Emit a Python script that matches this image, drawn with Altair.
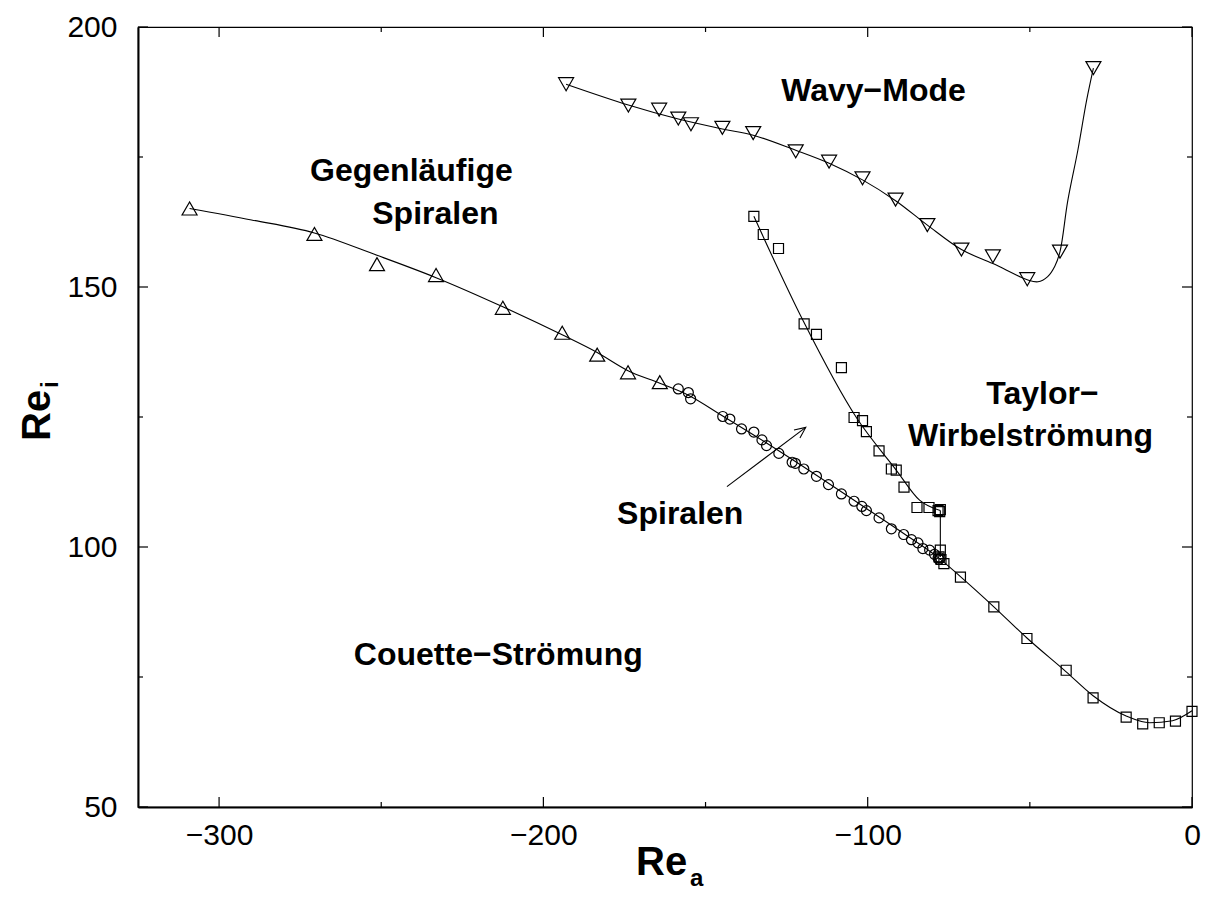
import altair as alt
import pandas as pd

# ---------------- data ----------------
# Gegenläufige Spiralen (triangle-up markers)
tri_up_x = [-309.1, -270.6, -251.3, -233.1, -212.5, -194.2, -183.4, -173.9, -164.1]
tri_up_y = [165.1, 160.2, 154.4, 152.3, 146.0, 141.2, 137.0, 133.6, 131.7]

# Spiralen onset (circle markers)
circ_x = [-158.4, -155.3, -154.6, -144.7, -142.5, -138.9, -135.1, -132.6, -131.2, -127.4,
          -123.3, -122.3, -119.7, -115.8, -112.1, -108.1, -104.2, -101.8, -100.4, -96.5,
          -92.7, -88.9, -86.5, -84.5, -83.0, -80.9, -79.4, -78.3, -78.0, -77.6]
circ_y = [130.4, 129.7, 128.5, 125.1, 124.6, 122.7, 122.1, 120.6, 119.5, 118.0,
          116.3, 116.1, 115.0, 113.6, 112.0, 110.2, 108.8, 107.8, 107.0, 105.6,
          103.5, 102.4, 101.4, 100.8, 99.7, 99.4, 98.6, 97.9, 97.6, 97.9]

# Taylor vortices (square markers)
sq_x = [-135.1, -132.2, -127.5, -119.6, -115.8, -108.1, -104.2, -101.6, -100.4, -96.5,
        -92.7, -91.2, -88.8, -84.8, -81.1, -78.3, -77.8, -77.6,
        -77.6, -78.0, -77.4,
        -76.5, -71.4, -61.1, -50.9, -38.8, -30.5, -20.3, -15.2, -10.1, -5.1, 0.0]
sq_y = [163.6, 160.1, 157.4, 142.9, 140.9, 134.5, 124.9, 124.3, 122.2, 118.5,
        115.0, 114.8, 111.5, 107.6, 107.6, 107.0, 106.8, 107.2,
        99.4, 98.1, 97.6,
        96.8, 94.2, 88.5, 82.4, 76.3, 71.0, 67.3, 66.0, 66.2, 66.5, 68.4]

# Wavy mode (triangle-down markers)
tri_dn_x = [-193.0, -173.8, -164.3, -158.4, -154.5, -144.8, -135.3, -122.2, -111.9,
            -101.6, -91.4, -81.6, -71.1, -61.4, -50.8, -40.7, -30.4]
tri_dn_y = [189.0, 184.9, 184.1, 182.4, 181.3, 180.6, 179.6, 176.1, 174.1,
            170.9, 166.8, 161.9, 157.2, 155.9, 151.5, 156.8, 192.1]

# boundary curves
couette_curve_x = [-309.1, -290.0, -270.6, -251.3, -233.1, -212.5, -194.2, -183.4, -173.9,
                   -164.1, -155.3, -144.7, -131.2, -115.8, -100.4, -88.9, -78.3, -71.4,
                   -61.1, -50.9, -38.8, -30.5, -20.3, -13.0, -6.0, 0.0]
couette_curve_y = [165.1, 162.9, 160.4, 156.1, 151.8, 146.2, 140.8, 137.4, 133.9,
                   131.5, 129.2, 125.2, 120.0, 113.8, 107.4, 102.6, 98.0, 94.3,
                   88.5, 82.5, 76.0, 71.4, 67.5, 66.2, 66.6, 68.5]
taylor_curve_x = [-135.1, -119.9, -103.5, -91.2, -84.0, -77.6]
taylor_curve_y = [163.6, 143.5, 124.9, 114.8, 109.0, 107.0]
wavy_curve_x = [-193.0, -173.8, -158.4, -144.8, -135.3, -122.2, -111.9, -101.6, -91.4,
                -81.6, -71.1, -61.4, -50.8, -47.5, -44.5, -42.3, -40.7, -38.3, -35.2,
                -32.5, -30.4]
wavy_curve_y = [189.0, 185.0, 182.3, 180.4, 179.2, 176.3, 173.8, 170.6, 166.6,
                161.9, 157.2, 154.5, 151.4, 151.0, 152.0, 154.0, 156.8, 166.6, 176.3,
                185.9, 192.1]

# vertical jump of the Taylor boundary
jump_x = [-77.6]
jump_y = [107.0]
jump_y2 = [98.1]

# arrow pointing to "Spiralen" region
arrow_x = [-143.4, -119.1]
arrow_y = [111.6, 123.0]

# region labels
annot_text = ["Wavy\u2212Mode", "Gegenläufige", "Spiralen", "Taylor\u2212",
              "Wirbelströmung", "Spiralen", "Couette\u2212Strömung"]
annot_x = [-98.2, -240.7, -233.3, -46.1, -49.8, -157.8, -213.9]
annot_y = [185.7, 170.3, 162.1, 127.5, 119.5, 104.5, 77.3]

# axis ticks
x_major = [-300, -200, -100, 0]
x_minor = [-250, -150, -50]
y_major = [50, 100, 150, 200]
y_minor = [75, 125, 175]

# ---------------- chart ----------------
W, H = 1054, 780
FONT = "Liberation Sans"

xs = alt.Scale(domain=[-325, 0], nice=False, zero=False)
ys = alt.Scale(domain=[50, 200], nice=False, zero=False)
X = alt.X("x:Q", scale=xs, title=None,
          axis=alt.Axis(values=x_major, ticks=False, tickSize=0, grid=False,
                        domain=True, domainColor="black", domainWidth=2,
                        labelFont=FONT, labelFontSize=30, labelColor="black",
                        labelPadding=13, labelFlush=False, labelOverlap=False))
Y = alt.Y("y:Q", scale=ys, title=None,
          axis=alt.Axis(values=y_major, ticks=False, tickSize=0, grid=False,
                        domain=True, domainColor="black", domainWidth=2,
                        labelFont=FONT, labelFontSize=30, labelColor="black",
                        labelPadding=21, labelFlush=False, labelOverlap=False))


def curve(xv, yv, interp):
    return alt.Chart(pd.DataFrame({"x": xv, "y": yv})).mark_line(
        interpolate=interp, color="black", strokeWidth=1.1
    ).encode(x=X, y=Y)


c_couette = curve(couette_curve_x, couette_curve_y, "monotone")
c_taylor = curve(taylor_curve_x, taylor_curve_y, "monotone")
c_wavy = curve(wavy_curve_x, wavy_curve_y, "catmull-rom")

jump_layer = alt.Chart(pd.DataFrame({"x": jump_x, "y": jump_y, "y2": jump_y2})).mark_rule(
    color="black", strokeWidth=1.1
).encode(x=X, y=Y, y2="y2:Q")

arrow_df = pd.DataFrame({"x": arrow_x, "y": arrow_y, "o": [0, 1]})
arrow_line = alt.Chart(arrow_df).mark_line(color="black", strokeWidth=1.1).encode(
    x=X, y=Y, order="o:Q")
arrow_head = alt.Chart(arrow_df.iloc[[1]]).mark_point(
    shape="M -0.45 1 L 0 0 L 0.45 1", size=484, angle=53, filled=False,
    color="black", strokeWidth=1.1, opacity=1
).encode(x=X, y=Y)


def markers(xv, yv, shape, size):
    return alt.Chart(pd.DataFrame({"x": xv, "y": yv})).mark_point(
        shape=shape, size=size, filled=False, color="black", strokeWidth=1.2, opacity=1
    ).encode(x=X, y=Y)


m_up = markers(tri_up_x, tri_up_y, "triangle-up", 225)
m_circ = markers(circ_x, circ_y, "circle", 100)
m_sq = markers(sq_x, sq_y, "square", 100)
m_dn = markers(tri_dn_x, tri_dn_y, "triangle-down", 225)

annot = alt.Chart(pd.DataFrame({"x": annot_x, "y": annot_y, "t": annot_text})).mark_text(
    font=FONT, fontSize=32, fontWeight="bold", color="black", align="center",
    baseline="alphabetic"
).encode(x=X, y=Y, text="t:N")


def xticks(vals, y0, y1):
    return alt.Chart(pd.DataFrame({"x": vals})).mark_rule(color="black", strokeWidth=1.2).encode(
        x=X, y=alt.value(y0), y2=alt.value(y1))


def yticks(vals, x0, x1):
    return alt.Chart(pd.DataFrame({"y": vals})).mark_rule(color="black", strokeWidth=1.2).encode(
        y=Y, x=alt.value(x0), x2=alt.value(x1))


tick_layers = [
    xticks(x_major, H, H - 10), xticks(x_minor, H, H - 5),
    xticks(x_major, 0, 10), xticks(x_minor, 0, 5),
    yticks(y_major, 0, 10), yticks(y_minor, 0, 5),
    yticks(y_major, W, W - 10), yticks(y_minor, W, W - 5),
]


def label(txt, px, py, size, angle=0):
    return alt.Chart(pd.DataFrame({"t": [txt]})).mark_text(
        font=FONT, fontSize=size, fontWeight="bold", color="black", align="left",
        baseline="alphabetic", angle=angle
    ).encode(x=alt.value(px), y=alt.value(py), text="t:N")


# axis titles with subscripts (pixel positions relative to plot area)
titles = [
    label("Re", 498, 848, 40),
    label("a", 552, 859, 24),
    label("Re", -88, 414, 40, 270),
    label("i", -80, 361, 24, 270),
]

chart = alt.layer(
    c_couette, c_taylor, c_wavy, jump_layer, arrow_line, arrow_head,
    m_up, m_circ, m_sq, m_dn, annot, *tick_layers, *titles
).properties(
    width=W, height=H,
    padding={"left": 130, "top": 19, "right": 10, "bottom": 85},
    autosize=alt.AutoSizeParams(type="none"),
    background="white",
).configure_view(stroke="black", strokeWidth=1.2)

chart.save("out.html", embed_options={"renderer": "svg", "actions": False})
